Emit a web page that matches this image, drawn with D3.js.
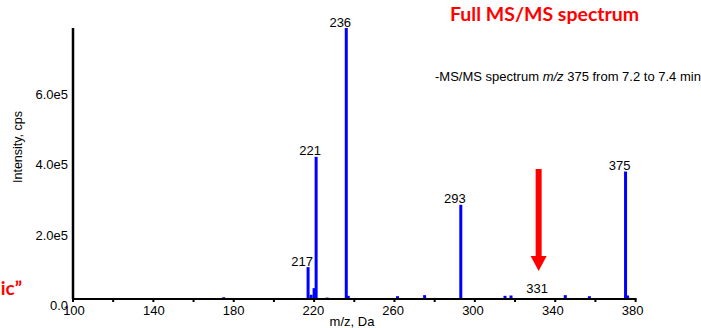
<!DOCTYPE html>
<html>
<head>
<meta charset="utf-8">
<script src="https://cdn.jsdelivr.net/npm/d3@7"></script>
<style>
  body { margin: 0; background: #fff; }
  svg { display: block; }
</style>
</head>
<body>
<div id="chart"></div>
<script>
// Peak list: m/z and intensity (cps)
const peakMz = [125, 134, 148, 175, 188, 198, 211.5, 217, 218.5, 220, 221, 226.5, 236, 237,
  244, 252, 261.5, 268, 275, 280, 287, 293, 304, 309, 315, 318, 325, 331, 338, 345, 351, 357, 366, 375, 376];
const peakInt = [2500, 2500, 2500, 5000, 2500, 2500, 3000, 91000, 12000, 31000, 406000, 4000, 774000, 9000,
  2500, 2500, 8000, 2500, 11000, 3000, 2500, 269000, 2500, 2500, 9000, 10000, 2500, 3000, 2500, 11000, 2500, 8000, 2500, 364000, 10000];

// Labelled peaks
const labelMz = [217, 221, 236, 293, 331, 375];

const xTicks = [100, 140, 180, 220, 260, 300, 340, 380];
const xMinorTicks = [120, 160, 200, 240, 280, 320, 360];
const yTicks = [0, 200000, 400000, 600000];
const yTickLabels = ["0.0", "2.0e5", "4.0e5", "6.0e5"];

const width = 701, height = 328;
const svg = d3.select("#chart").append("svg")
  .attr("width", width)
  .attr("height", height);

const x = d3.scaleLinear().domain([100, 380.5]).range([73, 636.6]);
const y = d3.scaleLinear().domain([0, 774000]).range([299, 28]);

const font = "'Liberation Sans', Arial, sans-serif";
const red = "#ff0000";

// Bars (sticks)
const peaks = peakMz.map((mz, i) => ({ mz, intensity: peakInt[i] }));
svg.append("g")
  .selectAll("rect")
  .data(peaks)
  .enter().append("rect")
  .attr("x", d => x(d.mz) - 1.5)
  .attr("y", d => y(d.intensity))
  .attr("width", 3)
  .attr("height", d => y(0) - y(d.intensity))
  .attr("fill", "#0000ff");

// Axes
svg.append("line")
  .attr("x1", x(100) - 1).attr("x2", x(380.5))
  .attr("y1", y(0)).attr("y2", y(0))
  .attr("stroke", "#000").attr("stroke-width", 2);
svg.append("line")
  .attr("x1", x(100)).attr("x2", x(100))
  .attr("y1", y(0)).attr("y2", y.range()[1])
  .attr("stroke", "#000").attr("stroke-width", 2.5);

svg.append("g")
  .selectAll("line")
  .data(xTicks.concat(xMinorTicks))
  .enter().append("line")
  .attr("x1", d => x(d)).attr("x2", d => x(d))
  .attr("y1", y(0)).attr("y2", y(0) + 3)
  .attr("stroke", "#000").attr("stroke-width", 2);

svg.append("g")
  .selectAll("text")
  .data(xTicks)
  .enter().append("text")
  .attr("x", d => x(d) + 1 - (d - 100) / 280 * 4)
  .attr("y", 315)
  .attr("text-anchor", "middle")
  .attr("font-family", font)
  .attr("font-size", 13)
  .text(d => d);

svg.append("g")
  .selectAll("text")
  .data(yTicks)
  .enter().append("text")
  .attr("x", 68)
  .attr("y", d => y(d) + 6)
  .attr("dy", "0.35em")
  .attr("text-anchor", "end")
  .attr("font-family", font)
  .attr("font-size", 13)
  .text((d, i) => yTickLabels[i]);

// Axis titles
svg.append("text")
  .attr("x", 352).attr("y", 326)
  .attr("text-anchor", "middle")
  .attr("font-family", font).attr("font-size", 13)
  .text("m/z, Da");

svg.append("text")
  .attr("transform", "translate(22,147) rotate(-90)")
  .attr("text-anchor", "middle")
  .attr("font-family", font).attr("font-size", 12.5)
  .text("Intensity, cps");

// Peak labels
svg.append("g")
  .selectAll("text")
  .data(labelMz)
  .enter().append("text")
  .attr("x", d => x(d) + (d === 331 ? 0 : -6))
  .attr("y", d => {
    const p = peaks.find(p => p.mz === d);
    return Math.min(y(p.intensity), y(0) - 2) - 1.5 + (d === 331 ? -3 : 0);
  })
  .attr("text-anchor", "middle")
  .attr("font-family", font).attr("font-size", 13)
  .text(d => d);

// Subtitle
const sub = svg.append("text")
  .attr("x", 435).attr("y", 81)
  .attr("font-family", font).attr("font-size", 13);
sub.append("tspan").text("-MS/MS spectrum ");
sub.append("tspan").attr("font-style", "italic").text("m/z");
sub.append("tspan").text(" 375 from 7.2 to 7.4 min");

// Red annotations
svg.append("text")
  .attr("x", 450).attr("y", 21)
  .attr("font-family", "Lato, 'Open Sans', sans-serif")
  .attr("font-weight", "bold").attr("font-size", 19.5)
  .attr("fill", red)
  .text("Full MS/MS spectrum");

svg.append("text")
  .attr("x", 22).attr("y", 295)
  .attr("text-anchor", "end")
  .attr("font-family", "Lato, 'Open Sans', sans-serif")
  .attr("font-weight", "bold").attr("font-size", 19)
  .attr("fill", red)
  .text("ic\u201d");

// Arrow pointing at m/z 331
const ax = x(331) + 1.5;
svg.append("rect")
  .attr("x", ax - 3).attr("y", 169)
  .attr("width", 6).attr("height", 89)
  .attr("fill", red);
svg.append("path")
  .attr("d", `M${ax - 8},256 L${ax + 8},256 L${ax},271 Z`)
  .attr("fill", red);
</script>
</body>
</html>
